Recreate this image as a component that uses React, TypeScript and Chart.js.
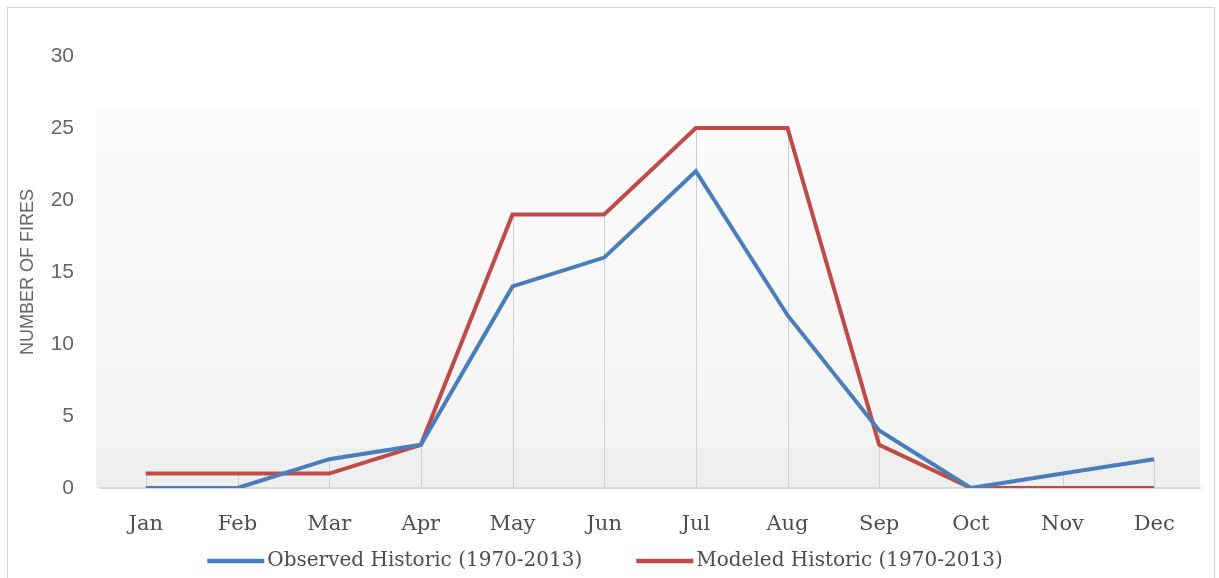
import React, { useEffect, useRef } from "react";
import { Chart, registerables } from "chart.js";

Chart.register(...registerables);

const months = ["Jan", "Feb", "Mar", "Apr", "May", "Jun", "Jul", "Aug", "Sep", "Oct", "Nov", "Dec"];
const observed = [0, 0, 2, 3, 14, 16, 22, 12, 4, 0, 1, 2];
const modeled = [1, 1, 1, 3, 19, 19, 25, 25, 3, 0, 0, 0];
const seriesLabels = ["Observed Historic (1970-2013)", "Modeled Historic (1970-2013)"];
const seriesColors = ["#4A7EBB", "#BE4B48"];
const yMin = 0;
const yMax = 30;
const yStep = 5;
const yTitle = "NUMBER OF FIRES";

const backgroundPlugin = {
  id: "bgBands",
  beforeDraw(chart: any) {
    const { ctx, chartArea, scales } = chart;
    const y = scales.y;
    const yTop = y.getPixelForValue(26.3);
    const yMid = y.getPixelForValue(2.8);
    const yBot = y.getPixelForValue(0);
    ctx.save();
    const g = ctx.createLinearGradient(0, yTop, 0, yMid);
    g.addColorStop(0, "#fbfbfb");
    g.addColorStop(1, "#f4f4f4");
    ctx.fillStyle = g;
    ctx.fillRect(chartArea.left - 4, yTop, chartArea.right - chartArea.left + 4, yMid - yTop);
    ctx.fillStyle = "#efefef";
    ctx.fillRect(chartArea.left - 4, yMid, chartArea.right - chartArea.left + 4, yBot - yMid);
    ctx.restore();
  },
  beforeDatasetsDraw(chart: any) {
    const { ctx, scales } = chart;
    const y0 = scales.y.getPixelForValue(0);
    const metas = chart.data.datasets.map((_: any, i: number) => chart.getDatasetMeta(i));
    ctx.save();
    ctx.strokeStyle = "#d0d0d0";
    ctx.lineWidth = 1;
    months.forEach((_, i) => {
      let top = y0;
      let x = 0;
      metas.forEach((m: any) => {
        const p = m.data[i];
        if (p) {
          top = Math.min(top, p.y);
          x = p.x;
        }
      });
      ctx.beginPath();
      ctx.moveTo(Math.round(x) + 0.5, y0);
      ctx.lineTo(Math.round(x) + 0.5, top);
      ctx.stroke();
    });
    ctx.restore();
  },
  afterDraw(chart: any) {
    const { ctx, width } = chart;
    ctx.save();
    ctx.font = "20px 'DejaVu Serif'";
    ctx.textBaseline = "middle";
    const lineW = 57;
    const gapText = 3;
    const gapItems = 54;
    const widths = seriesLabels.map((t) => lineW + gapText + ctx.measureText(t).width);
    const total = widths.reduce((a, b) => a + b, 0) + gapItems * (widths.length - 1);
    let x = width / 2 - total / 2 - 6;
    const yc = 553;
    seriesLabels.forEach((t, i) => {
      ctx.strokeStyle = seriesColors[i];
      ctx.lineWidth = 4.5;
      ctx.beginPath();
      ctx.moveTo(x, yc);
      ctx.lineTo(x + lineW, yc);
      ctx.stroke();
      ctx.fillStyle = "#4d4d4d";
      ctx.fillText(t, x + lineW + gapText, yc);
      x += widths[i] + gapItems;
    });
    ctx.restore();
  },
};

export default function App() {
  const ref = useRef<HTMLCanvasElement>(null);
  useEffect(() => {
    if (!ref.current) return;
    const chart = new Chart(ref.current, {
      type: "line",
      data: {
        labels: months,
        datasets: [
          {
            label: seriesLabels[0],
            data: observed,
            borderColor: seriesColors[0],
            backgroundColor: seriesColors[0],
            borderWidth: 4,
            pointRadius: 0,
            tension: 0,
          },
          {
            label: seriesLabels[1],
            data: modeled,
            borderColor: seriesColors[1],
            backgroundColor: seriesColors[1],
            borderWidth: 4,
            pointRadius: 0,
            tension: 0,
          },
        ],
      },
      options: {
        animation: false,
        responsive: true,
        maintainAspectRatio: false,
        layout: { padding: { top: 48, right: 14, bottom: 40, left: 0 } },
        plugins: {
          legend: { display: false },
          tooltip: { enabled: false },
        },
        scales: {
          x: {
            offset: true,
            grid: { display: false },
            border: { display: true, color: "#d9d9d9", width: 2 },
            ticks: {
              color: "#4d4d4d",
              font: { family: "'DejaVu Serif'", size: 21 },
              padding: 16,
              maxRotation: 0,
            },
            afterFit: (s: any) => {
              s.height = 50;
            },
          },
          y: {
            min: yMin,
            max: yMax,
            grid: { display: false },
            border: { display: false },
            ticks: {
              stepSize: yStep,
              color: "#666666",
              font: { family: "'Liberation Sans'", size: 21 },
              padding: 18,
            },
            title: {
              display: true,
              text: yTitle,
              color: "#666666",
              font: { family: "'Liberation Sans'", size: 18 },
              padding: { top: 9, bottom: 0 },
            },
            afterFit: (s: any) => {
              s.width = 92;
            },
          },
        },
      },
      plugins: [backgroundPlugin],
    });
    return () => chart.destroy();
  }, []);
  return (
    <div
      style={{
        position: "absolute",
        left: 7,
        top: 7,
        width: 1206,
        height: 570,
        border: "1px solid #d4d4d4",
        background: "#ffffff",
      }}
    >
      <canvas ref={ref} />
    </div>
  );
}
